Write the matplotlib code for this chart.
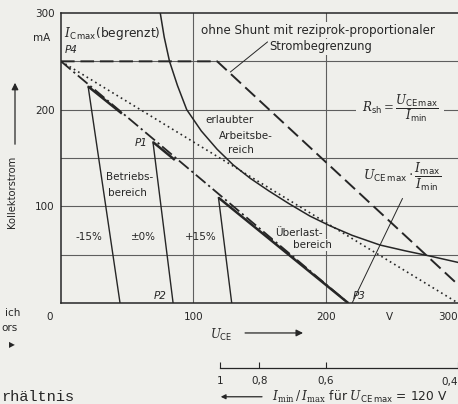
import numpy as np
import matplotlib.pyplot as plt

plt.rcParams['font.family'] = 'DejaVu Sans'
plt.rcParams['mathtext.fontset'] = 'dejavuserif'

bg = '#efefeb'
ink = '#262626'
gridc = '#5e5e5e'

# Grenzkurve erlaubter Arbeitsbereich (U_CE in V, I_C in mA)
u_grenz = [75, 78, 82, 88, 95, 106, 118, 130, 143, 157, 172, 188, 203, 220, 241, 260, 279, 300]
i_grenz = [300, 275, 250, 225, 200, 178, 159, 143, 129, 116, 103, 90, 80, 70, 60, 54, 48.5, 42]

# ohne Shunt, reziprok-proportionale Strombegrenzung
u_ohne_shunt = [0, 118, 300]
i_ohne_shunt = [250, 250, 19]

# punktierte Gerade P4 -> 300 V
u_punkt = [0, 300]
i_punkt = [250, 0]

# Kennlinie P4 -> P3 (strichpunktiert)
u_kenn = [0, 217]
i_kenn = [250, 0]

# Geraden -15 %, ±0 %, +15 %: oberer Punkt, Fusspunkt, Ende des dicken Abschnitts
u_oben = [20.5, 69.5, 119]
i_oben = [224, 166.5, 109]
u_fuss = [44.6, 84.7, 129]
u_dick = [46, 86, 217]
i_dick = [196, 148, 0]
streuung = ['-15%', '±0%', '+15%']
u_streuung = [21, 62, 106]

# Hinweislinien
u_hinweis_p3 = [220, 258]
i_hinweis_p3 = [0, 108]
u_hinweis_sb = [128, 156]
i_hinweis_sb = [239, 270]

y_ticks = [100, 200, 300]
x_ticks = [100, 200]
y_grid = [50, 100, 150, 200, 250]
x_grid = [100, 200]

# Nebenskala I_min/I_max bei U_CE max = 120 V
u_ce_max = 120
ratio_ticks = [1, 0.8, 0.6, 0.4]
ratio_labels = ['1', '0,8', '0,6', '0,4']

fig = plt.figure(figsize=(4.58, 4.04), dpi=100)
fig.patch.set_facecolor(bg)
ax = fig.add_axes([61/458, 1 - 303/404, 397/458, 290/404])
ax.set_facecolor(bg)
ax.set_xlim(0, 300)
ax.set_ylim(0, 300)

for v in y_grid:
    ax.axhline(v, color=gridc, lw=0.8, zorder=1)
for v in x_grid:
    ax.axvline(v, color=gridc, lw=0.8, zorder=1)

ax.spines['right'].set_visible(False)
for s in ['left', 'bottom', 'top']:
    ax.spines[s].set_color(ink)
    ax.spines[s].set_linewidth(1.1)

ax.set_yticks(y_ticks, [str(v) for v in y_ticks])
ax.set_xticks(x_ticks, [str(v) for v in x_ticks])
ax.tick_params(length=0, labelsize=7.5, colors=ink)
ax.tick_params(axis='y', pad=4.5)
ax.tick_params(axis='x', pad=6.5)

# Kurven
ax.plot(u_grenz, i_grenz, color=ink, lw=1.1, zorder=3)
ax.plot(u_ohne_shunt, i_ohne_shunt, color=ink, lw=1.4, dashes=(7, 3), zorder=3)
ax.plot(u_punkt, i_punkt, color=ink, lw=1.2, linestyle=(0, (1, 2)), zorder=3)
ax.plot(u_kenn, i_kenn, color=ink, lw=1.3, linestyle=(0, (7, 2, 1.2, 2)), zorder=3)
for k in range(3):
    ax.plot([u_oben[k], u_fuss[k]], [i_oben[k], 0], color=ink, lw=1.0, zorder=3)
    ax.plot([u_oben[k], u_dick[k]], [i_oben[k], i_dick[k]], color=ink, lw=1.8,
            solid_capstyle='butt', zorder=4)
    ax.text(u_streuung[k], 68, streuung[k], fontsize=7.5, color=ink,
            ha='center', va='center')

ax.plot(u_hinweis_p3, i_hinweis_p3, color=ink, lw=0.7, zorder=3)
ax.plot(u_hinweis_sb, i_hinweis_sb, color=ink, lw=0.7, zorder=3)

# Beschriftungen im Diagramm
txt = dict(color=ink, fontsize=7.5)
pt = dict(color=ink, fontsize=7.5, style='italic', ha='center', va='center')
box = dict(facecolor=bg, edgecolor='none', pad=1)
ax.text(2.3, 279, r'$I_{\mathsf{C\,max}}$(begrenzt)', ha='left', va='center',
        color=ink, fontsize=8.8)
ax.text(7.5, 262, 'P4', **pt)
ax.text(60.5, 165.5, 'P1', **pt)
ax.text(75, 7, 'P2', **pt)
ax.text(225.5, 7, 'P3', **pt)
ax.text(194, 282, 'ohne Shunt mit reziprok-proportionaler', ha='center', va='center',
        color=ink, fontsize=8.6, bbox=box, zorder=5)
ax.text(196, 265, 'Strombegrenzung', ha='center', va='center',
        color=ink, fontsize=8.3, bbox=box, zorder=5)
ax.text(127, 189, 'erlaubter', ha='center', va='center', **txt)
ax.text(140, 173, 'Arbeitsbe-', ha='center', va='center', **txt)
ax.text(136, 158, 'reich', ha='center', va='center', **txt)
ax.text(34, 130, 'Betriebs-', ha='left', va='center', **txt)
ax.text(35.5, 114, 'bereich', ha='left', va='center', **txt)
ax.text(179.5, 72, 'Überlast-', ha='center', va='center', bbox=box, zorder=5, **txt)
ax.text(190, 60, 'bereich', ha='center', va='center', bbox=box, zorder=5, **txt)
ax.text(256, 201.7, r'$R_{\mathsf{sh}} = \dfrac{U_{\mathsf{CE\,max}}}{I_{\mathsf{min}}}$',
        ha='center', va='center', fontsize=8.6, color=ink,
        bbox=dict(facecolor=bg, edgecolor='none', pad=4), zorder=5)
ax.text(258, 130, r'$U_{\mathsf{CE\,max}} \cdot \dfrac{I_{\mathsf{max}}}{I_{\mathsf{min}}}$',
        ha='center', va='center', fontsize=9, color=ink)

# Achsenbeschriftungen
ax.text(-8.3, 274, 'mA', ha='right', va='center', clip_on=False, **txt)
ax.text(-8.3, -14.5, '0', ha='center', va='center', clip_on=False, **txt)
ax.text(248.6, -14.5, 'V', ha='center', va='center', clip_on=False, **txt)
ax.text(300, -14.5, '300', ha='right', va='center', clip_on=False, **txt)
ax.text(112.6, -33, r'$U_{\mathsf{CE}}$', ha='left', va='center', fontsize=8.5,
        color=ink, clip_on=False)
ax.annotate('', xy=(185, -31), xytext=(137, -31), annotation_clip=False,
            arrowprops=dict(arrowstyle='-|>', color=ink, lw=0.9, mutation_scale=10))

fig.text(12/458, 1 - 192/404, 'Kollektorstrom', rotation=90, ha='center',
         va='center', fontsize=7.2, color=ink)
ax.annotate('', xy=(15/458, 1 - 80/404), xytext=(15/458, 1 - 147/404),
            xycoords='figure fraction', textcoords='figure fraction',
            arrowprops=dict(arrowstyle='-|>', color=ink, lw=0.9, mutation_scale=10))


# Nebenskala
def u_to_ratio(u):
    return u_ce_max / np.clip(np.asarray(u, dtype=float), 1e-3, None)


def ratio_to_u(r):
    return u_ce_max / np.clip(np.asarray(r, dtype=float), 1e-3, None)


sec = ax.secondary_xaxis(-65/290, functions=(u_to_ratio, ratio_to_u))
sec.set_xticks(ratio_ticks, ratio_labels[:-1] + [''])
sec.spines['bottom'].set_bounds(min(ratio_ticks), max(ratio_ticks))
sec.spines['bottom'].set_color(ink)
sec.spines['bottom'].set_linewidth(0.9)
sec.tick_params(direction='in', length=4, width=0.8, pad=6, labelsize=7.5, colors=ink)
ax.text(ratio_to_u(ratio_ticks[-1]), -81.7, ratio_labels[-1], ha='right', va='center',
        clip_on=False, **txt)

ax.annotate('', xy=(118.6, -97), xytext=(154, -97), annotation_clip=False,
            arrowprops=dict(arrowstyle='-|>', color=ink, lw=0.9, mutation_scale=7))
ax.text(159.4, -97, r'$I_{\mathrm{min}}\,/\,I_{\mathrm{max}}$ für $U_{\mathsf{CE\,max}}$ = 120 V',
        ha='left', va='center', fontsize=8.8, color=ink, clip_on=False)

# Textreste am linken Rand
fig.text(20/458, 1 - 313/404, 'ich', ha='right', va='center', fontsize=7.5, color=ink)
fig.text(18/458, 1 - 328/404, 'ors', ha='right', va='center', fontsize=7.5, color=ink)
fig.text(12/458, 1 - 345/404, '▶', ha='center', va='center', fontsize=5.5, color=ink)
fig.text(1/458, 1 - 397/404, 'rhältnis', ha='left', va='center', fontsize=11,
         family='Liberation Mono', color=ink)

fig.savefig('out.png', dpi=100, facecolor=bg)
